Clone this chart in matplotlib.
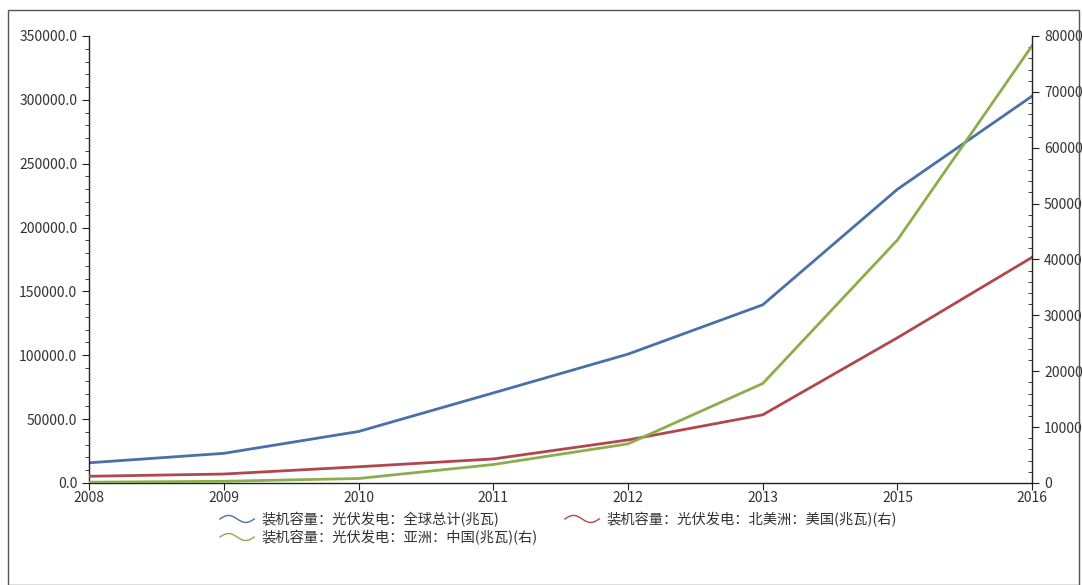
# -*- coding: utf-8 -*-
"""光伏装机容量：全球 / 中国 / 美国"""
import numpy as np
import matplotlib
matplotlib.use('Agg')
import matplotlib.pyplot as plt
from matplotlib.lines import Line2D
from matplotlib.legend_handler import HandlerBase
from matplotlib.ticker import MultipleLocator, FormatStrFormatter
from matplotlib.patches import Rectangle

plt.rcParams['font.family'] = ['Noto Sans CJK SC', 'DejaVu Sans']
plt.rcParams['axes.unicode_minus'] = False

# 数据
years = ['2008', '2009', '2010', '2011', '2012', '2013', '2015', '2016']
global_total = [15800, 23200, 40300, 70500, 100900, 139500, 230000, 303000]  # 左轴
china = [140, 300, 800, 3300, 7000, 17800, 43500, 78300]                     # 右轴
usa = [1200, 1600, 2900, 4300, 7700, 12200, 26000, 40400]                     # 右轴

lab_global = '装机容量：光伏发电：全球总计(兆瓦)'
lab_usa = '装机容量：光伏发电：北美洲：美国(兆瓦)(右)'
lab_china = '装机容量：光伏发电：亚洲：中国(兆瓦)(右)'
c_blue = '#4a70a8'
c_red = '#b0474d'
c_green = '#8cad4c'
txt = '#333333'


class WaveHandler(HandlerBase):
    """图例里的波浪线"""
    def create_artists(self, legend, orig_handle, xdescent, ydescent,
                       width, height, fontsize, trans):
        t = np.linspace(0, 1, 40)
        xs = -xdescent + t * width
        ys = -ydescent + height / 2 + np.sin(t * 2 * np.pi) * height * 0.35
        ln = Line2D(xs, ys, color=orig_handle.get_color(), lw=1.0, transform=trans)
        return [ln]


fig = plt.figure(figsize=(10.82, 5.85), dpi=100)
fig.patches.append(Rectangle((0.007, 0.0), 0.99, 0.983, transform=fig.transFigure,
                             fill=False, edgecolor='#555555', lw=1.0))
ax = fig.add_axes([0.0823, 0.1744, 0.8717, 0.7641])
ax2 = ax.twinx()

x = np.arange(len(years))
l1, = ax.plot(x, global_total, color=c_blue, lw=2.0)
l2, = ax2.plot(x, usa, color=c_red, lw=2.0)
l3, = ax2.plot(x, china, color=c_green, lw=2.0)

ax.set_xlim(0, len(years) - 1)
ax.set_ylim(0, 350000)
ax2.set_ylim(0, 80000)
ax.set_xticks(x)
ax.set_xticklabels(years)
ax.yaxis.set_major_locator(MultipleLocator(50000))
ax.yaxis.set_minor_locator(MultipleLocator(10000))
ax.yaxis.set_major_formatter(FormatStrFormatter('%.1f'))
ax2.yaxis.set_major_locator(MultipleLocator(10000))
ax2.yaxis.set_minor_locator(MultipleLocator(2000))
ax2.yaxis.set_major_formatter(FormatStrFormatter('%d'))

for a in (ax, ax2):
    a.spines['top'].set_visible(False)
    for s in a.spines.values():
        s.set_color('#222222')
        s.set_linewidth(1.0)
ax.spines['right'].set_visible(False)
ax2.spines['left'].set_visible(False)
ax2.spines['bottom'].set_visible(False)

ax.tick_params(axis='both', which='major', direction='out', length=5,
               labelsize=10, labelcolor=txt, color='#222222')
ax.tick_params(axis='x', which='major', pad=1)
ax.tick_params(axis='y', which='minor', direction='out', length=3, color='#222222')
ax2.tick_params(axis='y', which='major', direction='out', length=5,
                labelsize=10, labelcolor=txt, color='#222222')
ax2.tick_params(axis='y', which='minor', direction='in', length=3, color='#222222')

# 两列图例：按列填充，所以中国放在第二个
fig.legend([l1, l3, l2], [lab_global, lab_china, lab_usa],
           handler_map={Line2D: WaveHandler()},
           loc='upper left', bbox_to_anchor=(0.198, 0.135), ncol=2,
           frameon=False, fontsize=10.3, labelcolor=txt, handlelength=2.4,
           handletextpad=0.5, columnspacing=1.9, labelspacing=0.2,
           borderaxespad=0.0)

fig.savefig('out.png', dpi=100)
